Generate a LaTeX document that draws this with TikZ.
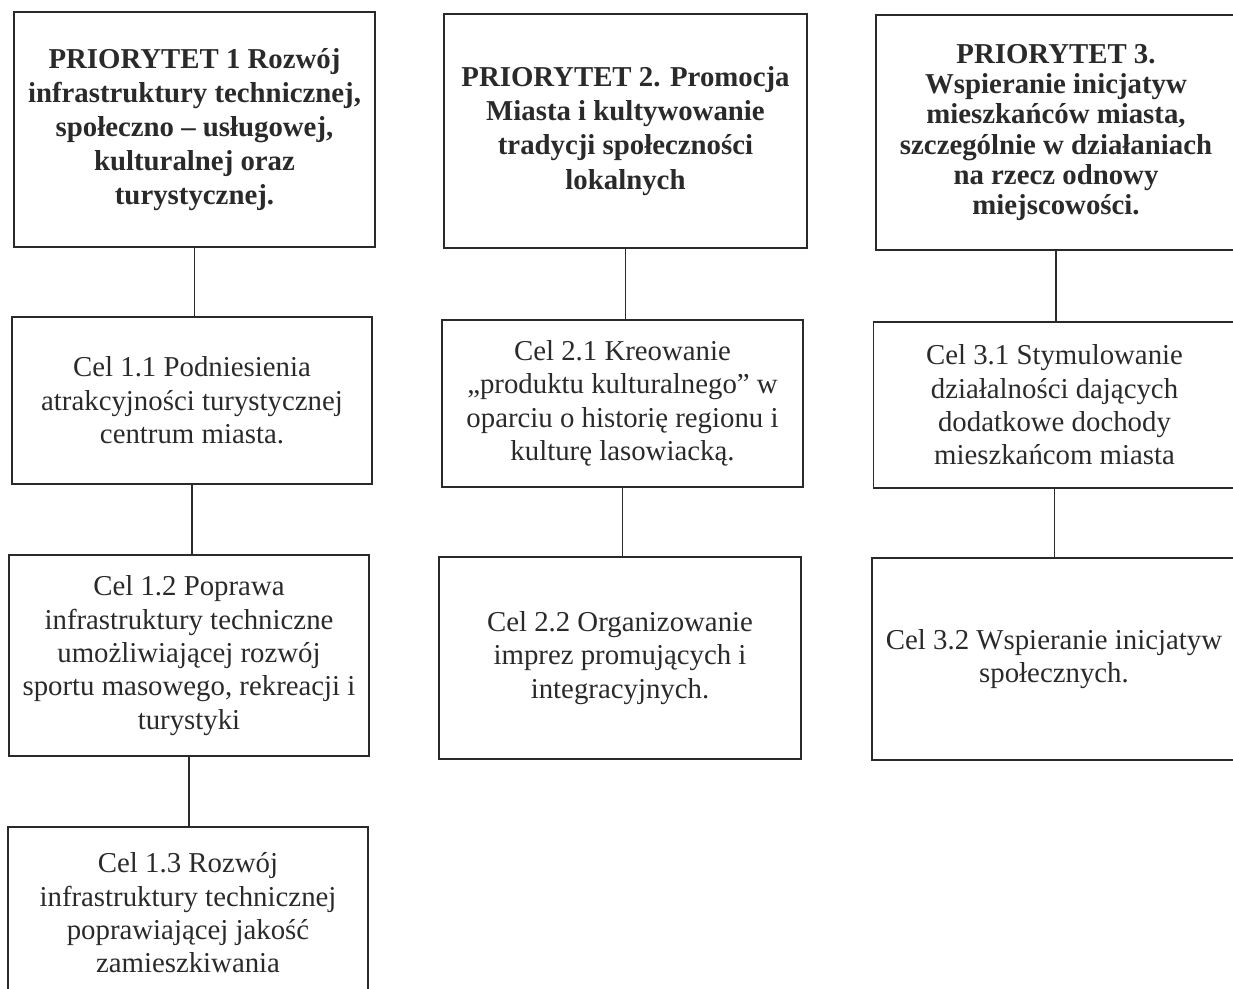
\documentclass[tikz,border=0pt]{standalone}
\usepackage{fontspec}
\setmainfont{Liberation Serif}
\definecolor{ink}{HTML}{2A2A2A}
\def\link#1#2{\draw [ink,line width=0.7pt] (#1.south) -- (#1.south |- #2.north);}

\begin{document}
\begin{tikzpicture}[x=0.02cm,y=-0.02cm,
  box/.style={draw=ink,line width=0.7pt,text=ink,align=center,inner sep=2pt},
  prio/.style={box,font=\fontsize{16.4}{19.4}\selectfont\bfseries},
  cel/.style={box,font=\fontsize{16.4}{19}\selectfont}]
\useasboundingbox (0,0) rectangle (1233,988);
\clip (0,0) rectangle (1233,988);
\node [prio,minimum width=7.22cm,minimum height=4.70cm] (p1) at (194.5,129.5)
  {PRIORYTET 1 Rozwój\\infrastruktury technicznej,\\społeczno – usługowej,\\kulturalnej oraz\\turystycznej.};
\node [cel,minimum width=7.20cm,minimum height=3.34cm] (c11) at (192,400.5)
  {Cel 1.1 Podniesienia\\atrakcyjności turystycznej\\centrum miasta.};
\node [cel,minimum width=7.20cm,minimum height=4.02cm] (c12) at (189,655.5)
  {Cel 1.2 Poprawa\\infrastruktury techniczne\\umożliwiającej rozwój\\sportu masowego, rekreacji i\\turystyki};
\node [cel,minimum width=7.20cm,minimum height=3.44cm] (c13) at (188,913)
  {Cel 1.3 Rozwój\\infrastruktury technicznej\\poprawiającej jakość\\zamieszkiwania};
\link{p1}{c11} \link{c11}{c12} \link{c12}{c13}
\node [prio,minimum width=7.26cm,minimum height=4.68cm] (p2) at (625.5,131)
  {PRIORYTET 2. Promocja\\Miasta i kultywowanie\\tradycji społeczności\\lokalnych};
\node [cel,minimum width=7.22cm,minimum height=3.34cm] (c21) at (622.5,403.5)
  {Cel 2.1 Kreowanie\\„produktu kulturalnego” w\\oparciu o historię regionu i\\kulturę lasowiacką.};
\node [cel,minimum width=7.24cm,minimum height=4.04cm] (c22) at (620,658)
  {Cel 2.2 Organizowanie\\imprez promujących i\\integracyjnych.};
\link{p2}{c21} \link{c21}{c22}
\node [prio,font=\fontsize{16.4}{17.2}\selectfont\bfseries,minimum width=7.20cm,minimum height=4.70cm] (p3) at (1056,132.5)
  {PRIORYTET 3.\\Wspieranie inicjatyw\\mieszkańców miasta,\\szczególnie w działaniach\\na rzecz odnowy\\miejscowości.};
\node [cel,minimum width=7.24cm,minimum height=3.32cm] (c31) at (1054.5,405)
  {Cel 3.1 Stymulowanie\\działalności dających\\dodatkowe dochody\\mieszkańcom miasta};
\node [cel,minimum width=7.28cm,minimum height=4.04cm] (c32) at (1054,659)
  {Cel 3.2 Wspieranie inicjatyw\\społecznych.};
\link{p3}{c31} \link{c31}{c32}
\end{tikzpicture}
\end{document}
